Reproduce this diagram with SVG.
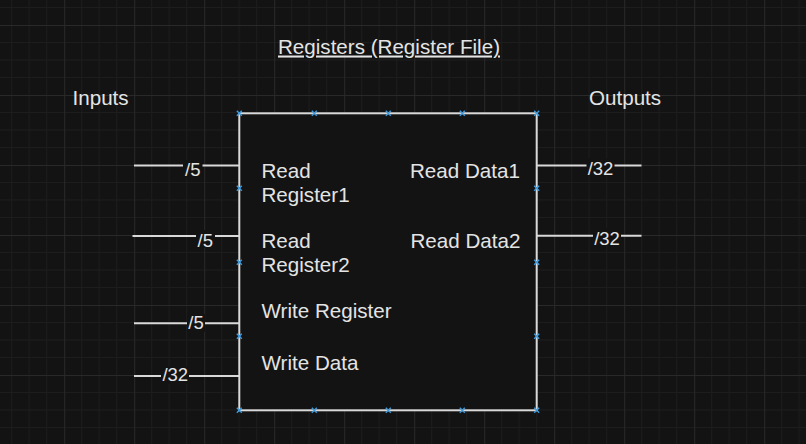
<svg xmlns="http://www.w3.org/2000/svg" width="806" height="444" viewBox="0 0 806 444">
<defs>
<pattern id="grid" x="64.2" y="25" width="70" height="70" patternUnits="userSpaceOnUse">
<path d="M17.5 0V70M35 0V70M52.5 0V70M0 17.5H70M0 35H70M0 52.5H70" stroke="#1d1d1d" stroke-width="1" fill="none"/>
<path d="M0.5 0V70M0 0.5H70" stroke="#292929" stroke-width="1" fill="none"/>
</pattern>
<g id="pt"><path d="M-2.5 -2.5L2.5 2.5M-2.5 2.5L2.5 -2.5" stroke="#3d9be0" stroke-width="1.4"/></g>
</defs>
<style>
text{font-family:"Liberation Sans",Arial,sans-serif;fill:#e4e4e4}
.t{font-size:20.6px}
.lb{font-size:18.5px;text-anchor:middle}
.w{stroke:#d9d9d9;stroke-width:2;fill:none}
.bg{fill:#131313}
</style>
<rect width="806" height="444" fill="#131313"/>
<rect width="806" height="444" fill="url(#grid)"/>
<g id="title"><text class="t" x="389" y="53.5" text-anchor="middle" text-decoration="underline">Registers (Register File)</text></g>
<g id="inputs-label"><text class="t" x="72.5" y="105">Inputs</text></g>
<g id="outputs-label"><text class="t" x="589" y="105">Outputs</text></g>
<g id="connectors">
<line class="w" x1="134" y1="165.5" x2="239" y2="165.5"/>
<line class="w" x1="132.5" y1="236" x2="239" y2="236"/>
<line class="w" x1="134" y1="323.3" x2="239" y2="323.3"/>
<line class="w" x1="134" y1="376" x2="239" y2="376"/>
<line class="w" x1="537" y1="165.5" x2="641.5" y2="165.5"/>
<line class="w" x1="537" y1="235.7" x2="641.5" y2="235.7"/>
<rect class="bg" x="183" y="160" width="19.5" height="18"/>
<text class="lb" x="192.8" y="176">/5</text>
<rect class="bg" x="196" y="230" width="19" height="18"/>
<text class="lb" x="205.3" y="246.5">/5</text>
<rect class="bg" x="187" y="314" width="18" height="18"/>
<text class="lb" x="196" y="329.3">/5</text>
<rect class="bg" x="161" y="366" width="28" height="18"/>
<text class="lb" x="175.3" y="381">/32</text>
<rect class="bg" x="586.5" y="158" width="28" height="18"/>
<text class="lb" x="600.5" y="175">/32</text>
<rect class="bg" x="593" y="228" width="28" height="18"/>
<text class="lb" x="607" y="245">/32</text>
</g>
<g id="register-file">
<rect x="239.3" y="113.3" width="297.4" height="297" fill="#131313" stroke="#d9d9d9" stroke-width="2"/>
<text class="t" x="261.5" y="177.5">Read</text>
<text class="t" x="261.5" y="202">Register1</text>
<text class="t" x="261.5" y="247.7">Read</text>
<text class="t" x="261.5" y="272.3">Register2</text>
<text class="t" x="261.5" y="317.7">Write Register</text>
<text class="t" x="261.5" y="370">Write Data</text>
<text class="t" x="410" y="177.5">Read Data1</text>
<text class="t" x="410.5" y="247.7">Read Data2</text>
<use href="#pt" x="239.3" y="113.3"/><use href="#pt" x="314.3" y="113.3"/><use href="#pt" x="388.3" y="113.3"/><use href="#pt" x="462.3" y="113.3"/><use href="#pt" x="536.7" y="113.3"/>
<use href="#pt" x="239.3" y="410.3"/><use href="#pt" x="314.3" y="410.3"/><use href="#pt" x="388.3" y="410.3"/><use href="#pt" x="462.3" y="410.3"/><use href="#pt" x="536.7" y="410.3"/>
<use href="#pt" x="239.3" y="188.3"/><use href="#pt" x="239.3" y="262.3"/><use href="#pt" x="239.3" y="336.3"/>
<use href="#pt" x="536.7" y="188.3"/><use href="#pt" x="536.7" y="262.3"/><use href="#pt" x="536.7" y="336.3"/>
</g>
</svg>
